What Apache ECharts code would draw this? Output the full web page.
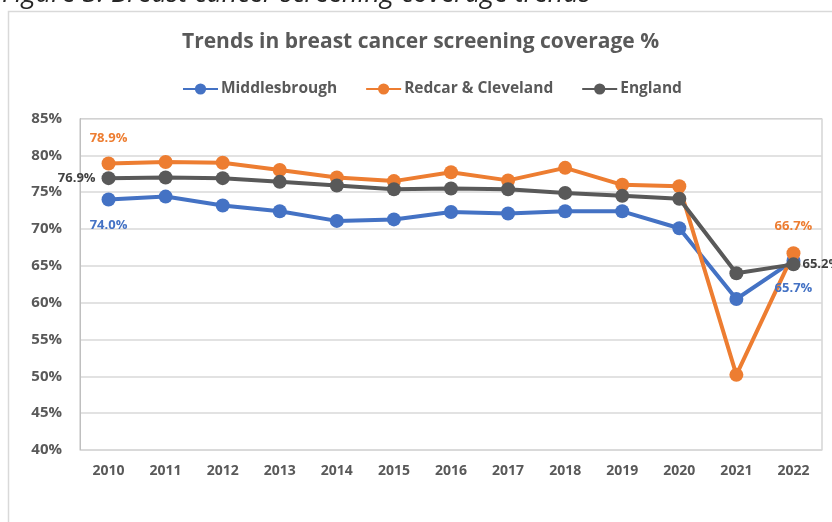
<!DOCTYPE html>
<html>
<head>
<meta charset="utf-8">
<script src="https://cdn.jsdelivr.net/npm/echarts@6/dist/echarts.min.js"></script>
<style>
  html, body { margin: 0; padding: 0; background: #fff; }
  #chart { width: 832px; height: 522px; }
</style>
</head>
<body>
<div id="chart"></div>
<script>
// years on the x axis
const years = ['2010', '2011', '2012', '2013', '2014', '2015', '2016', '2017', '2018', '2019', '2020', '2021', '2022'];
// screening coverage %
const middlesbrough = [74.0, 74.4, 73.2, 72.4, 71.1, 71.3, 72.3, 72.1, 72.4, 72.4, 70.1, 60.5, 65.7];
const redcar = [78.9, 79.1, 79.0, 78.0, 77.0, 76.5, 77.7, 76.6, 78.3, 76.0, 75.8, 50.2, 66.7];
const england = [76.9, 77.0, 76.9, 76.4, 75.9, 75.4, 75.5, 75.4, 74.9, 74.5, 74.1, 64.0, 65.2];

const FONT = '"Open Sans", "Noto Sans", sans-serif';
const GREY = '#595959';

// put a label on the first and the last point only
function withEnds(values, color, firstPos, lastPos, firstDist, lastDist) {
  return values.map(function (v, i) {
    if (i === 0 || i === values.length - 1) {
      return {
        value: v,
        label: {
          show: true,
          position: i === 0 ? firstPos : lastPos,
          distance: i === 0 ? firstDist : lastDist,
          formatter: function (p) { return p.value.toFixed(1) + '%'; },
          color: color,
          fontFamily: FONT,
          fontWeight: 'bold',
          fontSize: 13
        }
      };
    }
    return v;
  });
}

function lineSeries(name, values, color, labelColor, fp, lp, fd, ld) {
  return {
    name: name,
    type: 'line',
    data: withEnds(values, labelColor, fp, lp, fd, ld),
    symbol: 'circle',
    symbolSize: 14,
    lineStyle: { color: color, width: 4 },
    itemStyle: { color: color },
    emphasis: { disabled: true }
  };
}

const chart = echarts.init(document.getElementById('chart'));
chart.setOption({
  backgroundColor: '#fff',
  animation: false,
  graphic: [
    {
      type: 'rect',
      shape: { x: 8.5, y: 11.5, width: 900, height: 600 },
      style: { fill: 'none', stroke: '#d9d9d9', lineWidth: 1.5 }
    },
    {
      type: 'text',
      style: {
        x: 2, y: 7.5,
        text: 'Figure 3: Breast cancer screening coverage trends',
        fontFamily: FONT, fontStyle: 'italic', fontSize: 27,
        fill: '#262626', verticalAlign: 'bottom'
      }
    }
  ],
  title: {
    text: 'Trends in breast cancer screening coverage %',
    left: 177,
    top: 27,
    textStyle: { fontFamily: FONT, fontWeight: 'bold', fontSize: 21, color: GREY }
  },
  legend: {
    left: 177,
    top: 76,
    itemWidth: 35,
    itemHeight: 14,
    itemGap: 28,
    textStyle: { fontFamily: FONT, fontWeight: 'bold', fontSize: 15.5, color: GREY, padding: [0, 0, 0, -2] },
    data: ['Middlesbrough', 'Redcar & Cleveland', 'England']
  },
  grid: {
    left: 80, right: 10, top: 118.5, bottom: 72,
    show: true, borderColor: '#bfbfbf', borderWidth: 1
  },
  xAxis: {
    type: 'category',
    data: years,
    boundaryGap: true,
    axisTick: { show: false },
    axisLine: { lineStyle: { color: '#d9d9d9' } },
    axisLabel: { margin: 14, fontFamily: FONT, fontWeight: 'bold', fontSize: 14, color: GREY }
  },
  yAxis: {
    type: 'value',
    min: 40, max: 85, interval: 5,
    axisLine: { show: true, lineStyle: { color: '#bfbfbf' } },
    axisTick: { show: false },
    splitLine: { lineStyle: { color: '#d9d9d9', width: 1.5 } },
    axisLabel: { margin: 18, formatter: '{value}%', fontFamily: FONT, fontWeight: 'bold', fontSize: 15, color: GREY }
  },
  series: [
    lineSeries('Middlesbrough', middlesbrough, '#4472C4', '#4472C4', 'bottom', 'bottom', 12, 14),
    lineSeries('Redcar & Cleveland', redcar, '#ED7D31', '#ED7D31', 'top', 'top', 12, 14),
    lineSeries('England', england, '#595959', '#404040', 'left', 'right', 6, 2)
  ]
});
</script>
</body>
</html>
